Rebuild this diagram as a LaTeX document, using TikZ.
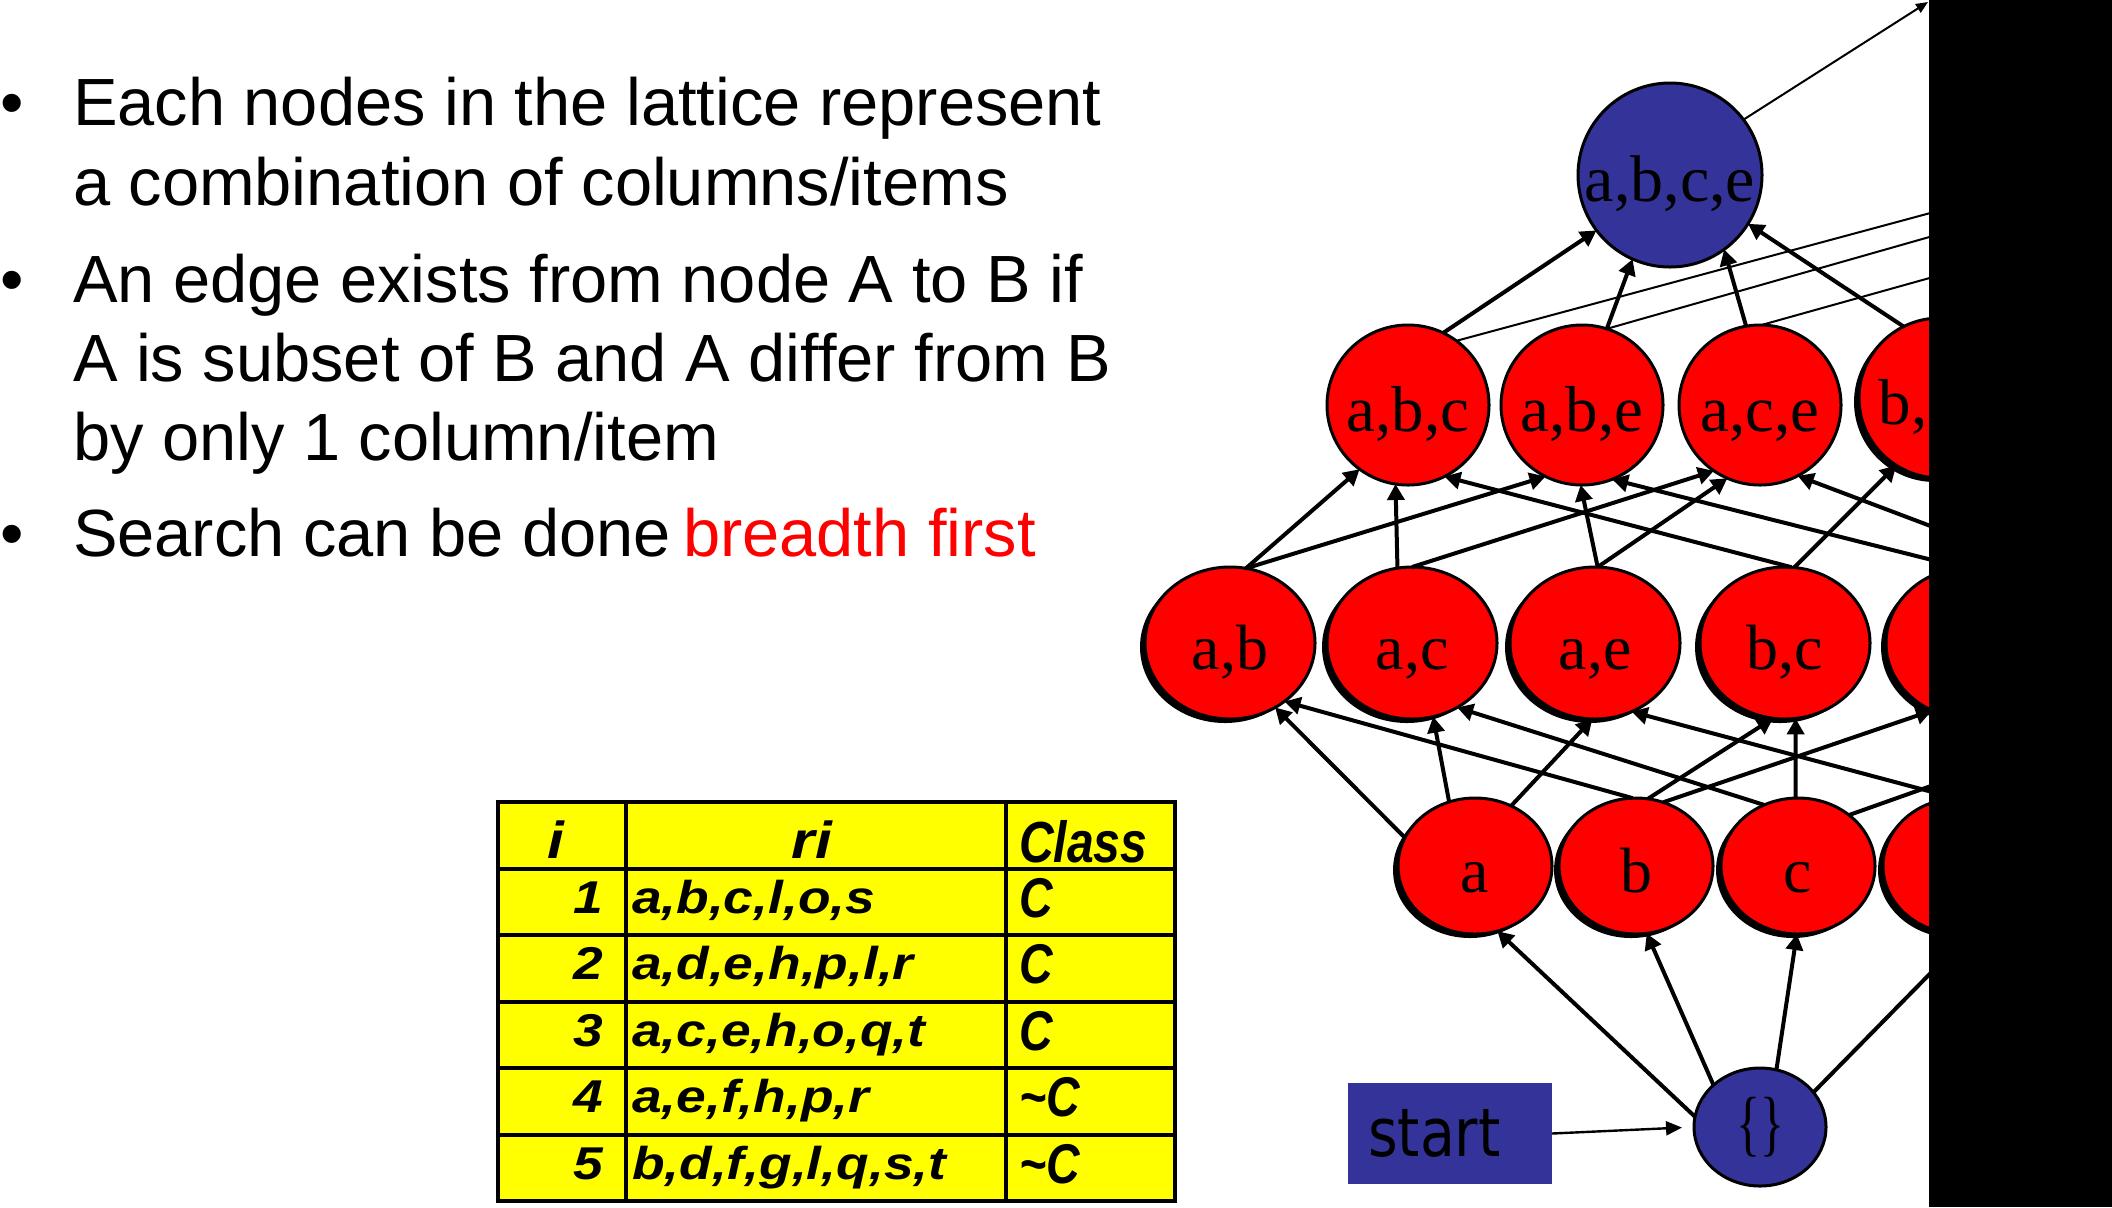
\documentclass[tikz,border=0pt]{standalone}
\usepackage{fontspec}
\setmainfont{Liberation Sans}
\newfontfamily\latfont{Liberation Serif}
\newfontfamily\tabfontA[FakeStretch=1.16]{Liberation Sans}
\newfontfamily\tabfontC[FakeStretch=0.83]{Liberation Sans}
\newfontfamily\startfont{DejaVu Sans}
\usetikzlibrary{shapes.geometric,arrows.meta,shadows}
\definecolor{latblue}{RGB}{51,51,153}
\definecolor{latred}{RGB}{255,0,0}
\definecolor{tabyellow}{RGB}{255,255,0}
\newcommand{\lbl}[1]{\makebox[0pt]{#1}}
\begin{document}
\begin{tikzpicture}[x=0.5pt,y=-0.5pt,
  every node/.style={inner sep=0pt, outer sep=0pt},
  lat/.style={ellipse, draw=black, line width=1.5pt, text=black, text height=26pt, text depth=0pt},
  rednode/.style={lat, fill=latred},
  bluenode/.style={lat, fill=latblue},
  shad/.style={drop shadow={shadow xshift=-2.5pt, shadow yshift=-2pt, opacity=1, fill=black}},
  lone/.style={minimum width=77pt, minimum height=68pt, font=\latfont\fontsize{32pt}{32pt}\selectfont},
  ltwo/.style={minimum width=85pt, minimum height=76pt, font=\latfont\fontsize{32pt}{32pt}\selectfont},
  lthree/.style={minimum width=81pt, minimum height=80pt, font=\latfont\fontsize{32.5pt}{32.5pt}\selectfont},
  arr/.style={line width=2pt, -{Triangle[length=8pt,width=8.5pt]}},
  thinarr/.style={line width=1pt, -{Triangle[length=6pt,width=5pt]}},
  thinline/.style={line width=1pt},
  startarr/.style={line width=1.2pt, -{Triangle[length=8pt,width=7pt]}, shorten >=6pt},
  bodytext/.style={anchor=base west, font=\fontsize{33.4pt}{33.4pt}\selectfont},
  tabline/.style={line width=2pt, draw=black},
  tabhead/.style={font=\tabfontA\bfseries\itshape\fontsize{26pt}{26pt}\selectfont},
  tabA/.style={font=\tabfontA\bfseries\itshape\fontsize{23pt}{23pt}\selectfont},
  tabChead/.style={anchor=base west, font=\tabfontC\bfseries\itshape\fontsize{29pt}{29pt}\selectfont},
  tabC/.style={anchor=base west, font=\tabfontC\bfseries\itshape\fontsize{28pt}{28pt}\selectfont}
]
\useasboundingbox (0,0) rectangle (2112,1207);
\fill[white] (0,0) rectangle (2112,1207);

% ---------------- bullet text ----------------
\node[bodytext] (b1) at (0,125) {•};
\node[bodytext] (t1) at (73,125) {Each nodes in the lattice represent};
\node[bodytext] (t2) at (73,205) {a combination of columns/items};
\node[bodytext] (b2) at (0,302) {•};
\node[bodytext] (t3) at (73,302) {An edge exists from node A to B if};
\node[bodytext] (t4) at (73,381) {A is subset of B and A differ from B};
\node[bodytext] (t5) at (73,460) {by only 1 column/item};
\node[bodytext] (b3) at (0,556) {•};
\node[bodytext] (t6) at (73,556) {Search can be done};
\node[bodytext, text=latred] (t7) at (683,556) {breadth first};

% ---------------- table ----------------
\fill[tabyellow] (498,802) rectangle (1175,1201);
\draw[tabline] (498,802) rectangle (1175,1201);
\foreach \yy in {868.5,935,1001.5,1068,1134.5} {\draw[tabline] (498,\yy) -- (1175,\yy);}
\draw[tabline] (626,802) -- (626,1201);
\draw[tabline] (1006,802) -- (1006,1201);
\node[tabhead, anchor=base] (hi) at (556,858) {i};
\node[tabhead, anchor=base] (hri) at (812,858) {ri};
\node[tabChead] (hclass) at (1019,862) {Class};
\node[tabA, anchor=base east] (n1) at (603,913) {1};
\node[tabA, anchor=base west] (r1) at (632,913) {a,b,c,l,o,s};
\node[tabC] (c1) at (1019,917) {C};
\node[tabA, anchor=base east] (n2) at (603,979.5) {2};
\node[tabA, anchor=base west] (r2) at (632,979.5) {a,d,e,h,p,l,r};
\node[tabC] (c2) at (1019,983.5) {C};
\node[tabA, anchor=base east] (n3) at (603,1046) {3};
\node[tabA, anchor=base west] (r3) at (632,1046) {a,c,e,h,o,q,t};
\node[tabC] (c3) at (1019,1050) {C};
\node[tabA, anchor=base east] (n4) at (603,1112.5) {4};
\node[tabA, anchor=base west] (r4) at (632,1112.5) {a,e,f,h,p,r};
\node[tabC] (c4) at (1019,1116.5) {\textasciitilde C};
\node[tabA, anchor=base east] (n5) at (603,1179) {5};
\node[tabA, anchor=base west] (r5) at (632,1179) {b,d,f,g,l,q,s,t};
\node[tabC] (c5) at (1019,1183) {\textasciitilde C};

% ---------------- lattice nodes ----------------
\node[bluenode, minimum width=92pt, minimum height=92pt, font=\latfont\fontsize{33pt}{33pt}\selectfont] (abce) at (1670,175) {\lbl{a,b,c,e}};

\node[rednode, lthree] (abc) at (1408,405) {\lbl{a,b,c}};
\node[rednode, lthree] (abe) at (1582,405) {\lbl{a,b,e}};
\node[rednode, lthree] (ace) at (1760,405) {\lbl{a,c,e}};
\node[rednode, lthree, shad] (bce) at (1940,398) {\lbl{b,c,e}};

\node[rednode, ltwo, shad] (ab) at (1230,643) {\lbl{a,b}};
\node[rednode, ltwo, shad] (ac) at (1412,643) {\lbl{a,c}};
\node[rednode, ltwo, shad] (ae) at (1595,643) {\lbl{a,e}};
\node[rednode, ltwo, shad] (bc) at (1785,643) {\lbl{b,c}};
\node[rednode, ltwo, shad] (be) at (1971,643) {\lbl{b,e}};

\node[rednode, lone, shad] (a) at (1475,866) {\lbl{a}};
\node[rednode, lone, shad] (b) at (1636,866) {\lbl{b}};
\node[rednode, lone, shad] (c) at (1798,866) {\lbl{c}};
\node[rednode, lone, shad] (e) at (1960,866) {\lbl{e}};

\node[ellipse, draw=black, line width=1.5pt, fill=latblue, minimum width=66pt, minimum height=59pt, font=\latfont\fontsize{25pt}{25pt}\selectfont] (e0) at (1760,1127) {\lbl{\scalebox{1}[1.45]{\{\}}}};

\node[fill=latblue, minimum width=102pt, minimum height=50.5pt, text width=82pt, inner xsep=10pt, align=left, font=\startfont\fontsize{33.5pt}{33.5pt}\selectfont] (start) at (1450,1133.5) {\scalebox{0.85}[1]{start}};

% free ends of edges that run behind the black band
\coordinate (ceL) at (2100,726);
\coordinate (ceT) at (2100,590);
\coordinate (x0) at (1928,2);
\coordinate (x1) at (2112,164);
\coordinate (x2) at (2112,185);
\coordinate (x3) at (2112,227);

% ---------------- edges ----------------
\draw[startarr] (start.east) -- (e0.west);

\draw[arr] (e0.171) -- (a.-71);
\draw[arr] (e0.138) -- (b.-81);
\draw[arr] (e0.74) -- (c.-91);
\draw[arr] (e0.33) -- (e.-82);

\draw[arr] (a.158) -- (ab.-55);
\draw[arr] (a.112) -- (ac.-74);
\draw[arr] (a.59) -- (ae.-92);
\draw[arr] (b.93) -- (ab.-47);
\draw[arr] (b.80) -- (bc.-99);
\draw[arr] (b.67) -- (be.-120);
\draw[arr] (c.119) -- (ac.-55);
\draw[arr] (c.92) -- (bc.-82);
\draw[arr] (c.45) -- (ceL);
\draw[arr] (e.94) -- (ae.-62);

\draw[arr] (ab.78) -- (abc.-127);
\draw[arr] (ab.78) -- (abe.-117);
\draw[arr] (ac.101) -- (abc.-99);
\draw[arr] (ac.90) -- (ace.-125);
\draw[arr] (ae.88) -- (abe.-91);
\draw[arr] (ae.88) -- (ace.-114);
\draw[arr] (bc.85) -- (abc.-63);
\draw[arr] (bc.83) -- (bce.-123);
\draw[arr] (be.97) -- (abe.-68);
\draw[arr] (ceT) -- (ace.-62);

\draw[arr] (abc.64) -- (abce.-143);
\draw[arr] (abe.72) -- (abce.-114);
\draw[arr] (ace.100) -- (abce.-54);
\draw[arr] (bce.117) -- (abce.-32);

\draw[thinline] (abc.53) -- (x1);
\draw[thinline] (abe.72) -- (x2);
\draw[thinline] (ace.89) -- (x3);
\draw[thinarr] (abce.37) -- (x0);

% black band on the right
\fill[black] (1929,0) rectangle (2112,1207);
\end{tikzpicture}
\end{document}
